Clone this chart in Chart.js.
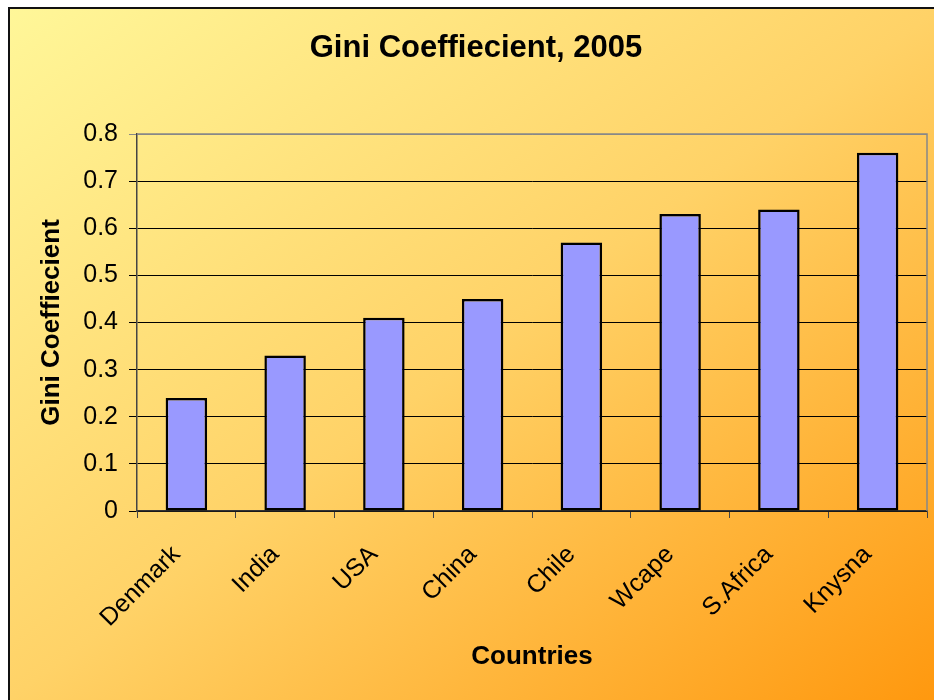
<!DOCTYPE html>
<html>
<head>
<meta charset="utf-8">
<script src="https://cdn.jsdelivr.net/npm/chart.js@4/dist/chart.umd.min.js"></script>
<style>
  html, body { margin: 0; padding: 0; background: #fff; }
  canvas { display: block; }
</style>
</head>
<body>
<canvas id="gini" width="934" height="700"></canvas>
<script>
// data
const countries = ['Denmark', 'India', 'USA', 'China', 'Chile', 'Wcape', 'S.Africa', 'Knysna'];
const giniValues = [0.24, 0.33, 0.41, 0.45, 0.57, 0.63, 0.64, 0.76];
const yTickLabels = ['0', '0.1', '0.2', '0.3', '0.4', '0.5', '0.6', '0.7', '0.8'];

const FONT = "'Liberation Sans', Arial, sans-serif";

// gradient fill + outer frame behind everything
const backdrop = {
  id: 'backdrop',
  beforeDraw(chart) {
    const ctx = chart.ctx;
    const w = chart.width, h = chart.height;
    const x0 = 8, y0 = 7;
    ctx.save();
    ctx.fillStyle = '#ffffff';
    ctx.fillRect(0, 0, w, h);
    // diagonal gradient, isolines parallel to the anti-diagonal
    const W = 940 - x0, H = 700 - y0;
    const k = 2 * W * H / (W * W + H * H);
    const g = ctx.createLinearGradient(x0, y0, x0 + k * H, y0 + k * W);
    g.addColorStop(0, '#fff799');
    g.addColorStop(0.5, '#ffd267');
    g.addColorStop(1, '#ff980e');
    ctx.fillStyle = g;
    ctx.fillRect(x0, y0, w - x0, h - y0);
    ctx.strokeStyle = '#111';
    ctx.lineWidth = 2;
    ctx.beginPath();
    ctx.moveTo(x0 + 1, h + 2);
    ctx.lineTo(x0 + 1, y0 + 1);
    ctx.lineTo(w + 2, y0 + 1);
    ctx.stroke();
    ctx.restore();
  },
  afterDatasetsDraw(chart) {
    // gray right edge of the plot area
    const {ctx, chartArea: a} = chart;
    ctx.save();
    ctx.strokeStyle = '#888';
    ctx.lineWidth = 1.5;
    ctx.beginPath();
    ctx.moveTo(a.left, a.top);
    ctx.lineTo(a.right, a.top);
    ctx.lineTo(a.right, a.bottom);
    ctx.stroke();
    ctx.restore();
  }
};

new Chart(document.getElementById('gini'), {
  type: 'bar',
  data: {
    labels: countries,
    datasets: [{
      label: 'Gini Coeffiecient',
      data: giniValues,
      backgroundColor: '#9999ff',
      borderColor: '#000',
      borderWidth: 2.5,
      borderSkipped: false,
      categoryPercentage: 1,
      barPercentage: 0.42
    }]
  },
  options: {
    responsive: false,
    animation: false,
    layout: { padding: { left: 25, right: 7, top: 0, bottom: 0 } },
    plugins: {
      legend: { display: false },
      tooltip: { enabled: false },
      title: {
        display: true,
        text: 'Gini Coeffiecient, 2005',
        color: '#000',
        font: { family: FONT, size: 31, weight: 'bold' },
        padding: { top: 30, bottom: 66.8 }
      }
    },
    scales: {
      x: {
        offset: true,
        grid: {
          offset: true,
          drawOnChartArea: false,
          drawTicks: true,
          tickLength: 7,
          color: '#444'
        },
        border: { color: '#333', width: 1.5 },
        ticks: {
          color: '#000',
          font: { family: FONT, size: 25 },
          minRotation: 45,
          maxRotation: 45,
          padding: 22,
          labelOffset: -10
        },
        title: {
          display: true,
          text: 'Countries',
          color: '#000',
          font: { family: FONT, size: 26, weight: 'bold' },
          padding: { top: 0, bottom: 27.4 }
        },
        afterFit(scale) {
          scale.height = 189;
          scale.paddingLeft = 0;
          scale.paddingRight = 0;
        }
      },
      y: {
        min: 0,
        max: 0.8,
        ticks: {
          stepSize: 0.1,
          color: '#000',
          font: { family: FONT, size: 25 },
          padding: 11,
          callback: (v, i) => yTickLabels[i]
        },
        grid: {
          color: (c) => c.index === yTickLabels.length - 1 ? '#888' : '#000',
          lineWidth: 1,
          tickLength: 8
        },
        border: { color: '#444', width: 1.5 },
        title: {
          display: true,
          text: 'Gini Coeffiecient',
          color: '#000',
          font: { family: FONT, size: 26, weight: 'bold' },
          padding: { top: 11.4, bottom: 0 }
        },
        afterFit(scale) {
          scale.width = 112;
          scale.paddingTop = 0;
          scale.paddingBottom = 0;
        }
      }
    }
  },
  plugins: [backdrop]
});
</script>
</body>
</html>
